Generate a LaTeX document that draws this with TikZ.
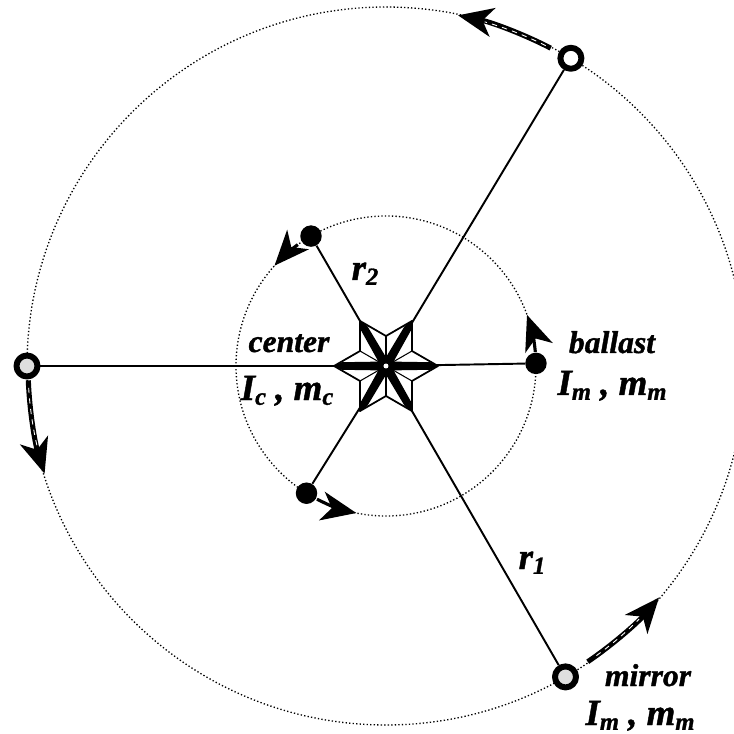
\documentclass[tikz,border=0pt]{standalone}
\usepackage{fontspec}
\setmainfont{Liberation Serif}
\newfontfamily\lblfont{Liberation Serif}[BoldItalicFeatures={FakeBold=1.2}]
\usetikzlibrary{arrows.meta}
\newcommand{\sbsc}[1]{\raisebox{-0.13em}{\fontsize{14}{14}\selectfont #1}}
\tikzset{
  lbl/.style={anchor=base,inner sep=0pt,font=\lblfont\fontsize{18}{20}\selectfont\bfseries\itshape},
  lblbig/.style={lbl,font=\lblfont\fontsize{21}{23}\selectfont\bfseries\itshape},
  orbit/.style={line width=0.75pt,dash pattern=on 0.75pt off 1.25pt},
  rod/.style={line width=1.1pt},
  ballastnode/.style={circle,fill=black,minimum size=0.43cm,inner sep=0pt},
  mirrornode/.style={circle,draw=black,line width=3.4pt,fill=gray!25,minimum size=0.42cm,inner sep=0pt},
  swing/.style={line width=2.9pt,-{Stealth[length=0.7cm,width=0.58cm,inset=0.2cm]}},
  swingcore/.style={white,line width=0.5pt,dashed},
}

\begin{document}
\begin{tikzpicture}[x=0.02cm,y=0.02cm,line join=round]
\useasboundingbox (-386,-368) rectangle (348,366);
% --- orbits
\begin{scope}
\clip (-386,-368) rectangle (348,366);
\draw[orbit] (0,0) circle (359);
\draw[orbit] (0,0) circle (150);
\end{scope}
% --- hub and the masses
\node[circle,fill=white,draw=black,line width=1pt,minimum size=0.11cm,inner sep=0pt] (hub) at (0,0) {};
\node[mirrornode,fill=white] (mirrorA) at (59:359) {};
\node[mirrornode] (mirrorB) at (180:359) {};
\node[mirrornode] (mirrorC) at (-60:359) {};
\node[ballastnode] (ballastA) at (1:150) {};
\node[ballastnode] (ballastB) at (120:150) {};
\node[ballastnode] (ballastC) at (238:150) {};
\draw[rod] (hub) -- (mirrorA); \draw[rod] (hub) -- (mirrorC);
\draw[rod,line width=1.6pt] (hub) -- (mirrorB);
\draw[rod] (hub) -- (ballastA); \draw[rod] (hub) -- (ballastB); \draw[rod] (hub) -- (ballastC);
% --- star
\draw[fill=white,line width=1pt] (0:52) -- (30:30) -- (60:52) -- (90:30) -- (120:52) -- (150:30) -- (180:52) -- (210:30) -- (240:52) -- (270:30) -- (300:52) -- (330:30) -- cycle;
\foreach \a in {30,90,...,330} \draw[line width=0.6pt] (0,0) -- (\a:30);
\foreach \a in {0,60,...,300} \fill[rotate=\a] (52,0) -- (44,3.8) -- (0,4.5) -- (0,-4.5) -- (44,-3.8) -- cycle;
\node[circle,fill=black,minimum size=0.28cm,inner sep=0pt] at (0,0) {};
\node[circle,fill=white,minimum size=0.1cm,inner sep=0pt] at (0,0) {};
% --- swing arrows
\draw[swing] (62.6:358) arc (62.6:78.4:358); \draw[swingcore] (63.5:358) arc (63.5:74:358);
\draw[swing] (182.3:358) arc (182.3:197.5:358); \draw[swingcore] (183.5:358) arc (183.5:193:358);
\draw[swing] (-55.7:358) arc (-55.7:-40.3:358); \draw[swingcore] (-54:358) arc (-54:-45:358);
\draw[swing,line width=1.8pt] (126:150) arc (126:138:150);
\draw[swing,line width=1.8pt] (5.4:150) arc (5.4:19.9:150);
\draw[swing,line width=1.8pt] (242.6:150) arc (242.6:258.6:150);
% --- labels
\node[lbl] (lcenter) at (-97,14) {center};
\node[lblbig] (lcenterI) at (-99,-34) {I\sbsc{c} , m\sbsc{c}};
\node[lbl] (lballast) at (226,13) {ballast};
\node[lblbig] (lballastI) at (226,-29) {I\sbsc{m} , m\sbsc{m}};
\node[lbl] (lmirror) at (262,-320) {mirror};
\node[lblbig] (lmirrorI) at (254,-359) {I\sbsc{m} , m\sbsc{m}};
\node[lblbig] (lrone) at (146,-203) {r\sbsc{1}};
\node[lblbig] (lrtwo) at (-21,86) {r\sbsc{2}};
\end{tikzpicture}
\end{document}
